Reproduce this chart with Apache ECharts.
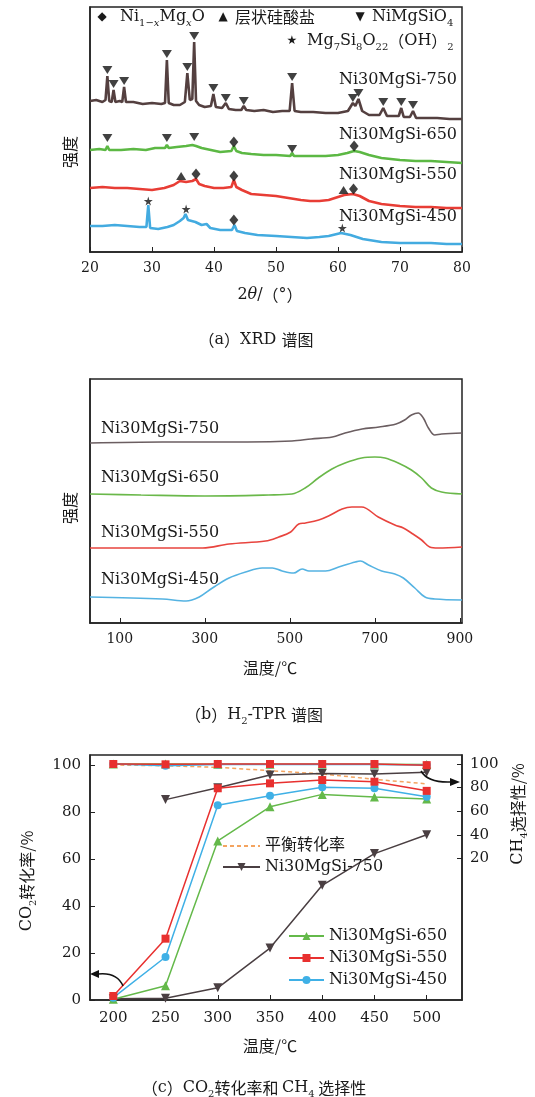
<!DOCTYPE html>
<html><head><meta charset="utf-8">
<script src="https://cdn.jsdelivr.net/npm/echarts@6/dist/echarts.min.js"></script>
<style>html,body{margin:0;padding:0;background:#fff}#c{width:535px;height:1097px}</style>
</head><body><div id="c"></div>
<script>
// ---------- data ----------
// (a) XRD, 2θ vs relative intensity (a.u.)
const xrd750 = [[20,151],[21,152],[22,150],[22.5,152],[22.8,176],[23.1,151],[23.5,150],[23.8,162],[24.1,150],[24.8,151],[25.2,150],[25.5,165],[25.8,150],[27,150],[28.5,148],[30,149],[31.5,148],[32.1,149],[32.4,192],[32.7,149],[33.5,147],[34.5,147],[35.3,150],[35.7,179],[36.1,152],[36.5,153],[36.8,210],[37.1,151],[37.6,147],[38.5,145],[39.5,146],[39.9,158],[40.3,145],[41.3,144],[41.9,149],[42.4,143],[43.5,142],[44.4,142],[44.8,146],[45.2,142],[46.5,141],[48,142],[49.5,140],[51,141],[52.2,141],[52.6,169],[53,141],[54,140],[56,140],[58,139],[60,139],[61.6,141],[62.4,149],[62.8,146],[63.3,153],[63.9,141],[65,137],[66.7,137],[67.3,144],[67.9,136],[69,136],[69.8,136],[70.2,144],[70.6,135],[71.6,135],[72.1,141],[72.6,134],[74,134],[76,134],[78,133],[80,133]];
const xrd650 = [[20,102],[21.5,103],[22.5,102],[22.8,106],[23.1,102],[25,102],[27,103],[29,102],[30.5,104],[32.1,104],[32.4,107],[32.7,104],[34,105],[35.5,106],[36.5,107],[36.8,109],[37.1,106],[38,104],[39.5,102],[41,100],[42.8,101],[43.2,106],[43.6,101],[44.5,99],[46,98],[48,97],[50,97],[52.3,96],[52.6,99],[52.9,96],[54,96],[56,96],[58,96],[60,97],[61.5,99],[62.6,101],[63.5,100],[65,97],[67,94],[70,92],[72.5,91],[75,91],[77.5,90],[80,89]];
const xrd550 = [[20,64],[22,65],[24,64],[26,64],[28,63],[30,62],[32,64],[33.5,67],[34.5,71],[35.5,70],[36.5,71],[37.1,73],[37.6,68],[38.5,66],[40,64],[41.5,64],[42.8,65],[43.2,72],[43.6,65],[44.5,62],[46,58],[48,57],[50,56],[52,54],[54,52],[55.5,51],[57,51],[58.5,52],[60,55],[61,57],[62.4,58],[63.5,56],[65,51],[67,48],[70,46],[72.5,45],[75,45],[77.5,44],[80,44]];
const xrd450 = [[20,26],[22,26],[24,27],[26,26],[28,25],[29.1,25],[29.4,47],[29.7,24],[31,23],[32.5,25],[33.5,27],[34.5,31],[35.1,34],[35.4,38],[35.8,32],[37,30],[38,27],[38.8,28],[39.4,24],[41,22],[42.9,22],[43.3,27],[43.7,21],[45,19],[47,17],[50,16],[52.5,15],[55,14],[57,15],[58.5,16],[60.5,19],[62,17],[64,13],[67,10],[70,9],[72.5,9],[75,9],[77.5,8],[80,8]];
// peak markers (2θ, height)
const markDiamond = [[43.2,110],[62.6,106],[37.1,78],[43.2,76],[62.5,63],[43.2,32]];
const markTriUp = [[34.7,76],[60.9,62]];
const markTriDown = [[22.8,182],[23.8,168],[25.5,171],[32.4,198],[35.7,185],[36.8,216],[39.9,164],[41.9,154],[44.8,151],[52.6,175],[62.4,154],[63.3,159],[67.3,150],[70.2,150],[72.1,147],[22.8,114],[32.4,114],[36.8,115],[52.6,103]];
const markStar = [[29.4,51],[35.5,43],[60.7,24]];

// (b) H2-TPR, temperature vs signal (a.u.)
const tpr750 = [[30,180],[200,181],[400,181],[505,182],[550,184],[600,186],[630,190],[670,194],[710,196],[750,199],[770,203],[786,208],[802,210],[814,205],[826,195],[841,188],[857,189],[905,190]];
const tpr650 = [[30,129],[150,128],[300,127],[450,128],[505,129],[536,135],[567,145],[599,154],[630,160],[669,165],[700,166],[724,165],[755,160],[786,153],[810,145],[833,135],[857,131],[905,129]];
const tpr550 = [[30,75],[240,75],[295,75],[357,79],[443,82],[474,86],[502,91],[521,99],[537,100],[568,103],[591,107],[623,114],[646,116],[669,116],[708,106],[747,98],[767,95],[786,90],[810,83],[829,76],[849,75],[905,76]];
const tpr450 = [[30,26],[200,24],[256,22],[287,26],[318,35],[357,45],[396,51],[435,55],[459,55],[482,52],[509,50],[529,54],[545,52],[584,52],[615,56],[654,61],[666,62],[685,58],[716,52],[747,49],[767,45],[794,35],[818,26],[841,24],[905,23]];
const tprTicks = [100,300,500,700,900];

// (c) CO2 conversion (%) and CH4 selectivity (%)
const temps = [200,250,300,350,400,450,500];
const equil   = [100,99.7,99,97.6,96.2,93.9,92];
const conv750 = [0.5,0.7,5.2,22.1,48.8,62.3,70.3];
const conv650 = [0.3,6.1,67.7,82.2,87.5,86.4,85.5];
const conv550 = [1.7,26.1,90.1,92.2,93.6,92.9,89.0];
const conv450 = [1.0,18.3,82.9,86.9,90.5,90.1,86.5];
const sel750  = [null,69.8,79.8,90.6,92.0,91.5,92.9];
const sel650  = [100,100,99.8,99.8,99.8,99.8,99.5];
const sel550  = [100,99.7,100,100,100,100,99.0];
const sel450  = [100,98.5,99.6,99.6,99.6,99.6,99.2];
const leftTicks = [0,20,40,60,80,100];
const rightTicks = [20,40,60,80,100];

// ---------- styles ----------
const SERIF = "'DejaVu Serif','Noto Sans CJK SC',serif";
const TXT = '#1a1a1a';
const C750 = '#544040', C650 = '#5cb844', C550 = '#e83d35', C450 = '#43abe0';
const T750 = '#6b5e61', T650 = '#6ab84a', T550 = '#e8443e', T450 = '#55b3e2';
const EQ = '#f4a460';
const STAR = 'path://M50,0 L61,35 L98,35 L68,57 L79,91 L50,70 L21,91 L32,57 L2,35 L39,35 Z';
const pair = arr => temps.map((t, i) => [t, arr[i]]);

const chart = echarts.init(document.getElementById('c'), null, {renderer: 'canvas'});

const frame = {show: true, borderColor: '#222', borderWidth: 1.5, backgroundColor: 'transparent'};
const grids = [
  Object.assign({left: 90, top: 7, width: 372, height: 245}, frame),
  Object.assign({left: 90, top: 379, width: 372, height: 244}, frame),
  Object.assign({left: 90, top: 755, width: 372, height: 245}, frame)
];
const axLine = {show: true, lineStyle: {color: '#222', width: 1.5}};
const lab = {color: TXT, fontFamily: SERIF, fontSize: 14};

const xAxes = [
  {gridIndex: 0, type: 'value', min: 20, max: 80, interval: 10, axisLine: axLine,
   axisTick: {inside: true, length: 5, lineStyle: {color: '#222'}}, axisLabel: Object.assign({margin: 9}, lab), splitLine: {show: false}},
  {gridIndex: 1, type: 'value', min: 30, max: 905, axisLine: axLine,
   axisTick: {inside: true, length: 5, customValues: tprTicks, lineStyle: {color: '#222'}},
   axisLabel: Object.assign({margin: 9, customValues: tprTicks}, lab), splitLine: {show: false}},
  {gridIndex: 2, type: 'value', min: 177.7, max: 533.8, axisLine: axLine,
   axisTick: {inside: true, length: 5, customValues: temps, lineStyle: {color: '#222'}},
   axisLabel: Object.assign({margin: 11, customValues: temps}, lab, {fontSize: 15}), splitLine: {show: false}}
];
const yAxes = [
  {gridIndex: 0, type: 'value', min: 0, max: 245, axisLine: axLine, axisTick: {show: false}, axisLabel: {show: false}, splitLine: {show: false}},
  {gridIndex: 1, type: 'value', min: 0, max: 244, axisLine: axLine, axisTick: {show: false}, axisLabel: {show: false}, splitLine: {show: false}},
  {gridIndex: 2, type: 'value', min: 0, max: 104.26, axisLine: axLine,
   axisTick: {inside: true, length: 5, customValues: leftTicks, lineStyle: {color: '#222'}},
   axisLabel: Object.assign({margin: 9, customValues: leftTicks}, lab, {fontSize: 15}), splitLine: {show: false}},
  {gridIndex: 2, type: 'value', position: 'right', min: -100, max: 107.6, axisLine: axLine,
   axisTick: {inside: true, length: 5, customValues: rightTicks, lineStyle: {color: '#222'}},
   axisLabel: Object.assign({margin: 8, customValues: rightTicks}, lab, {fontSize: 15}), splitLine: {show: false}}
];

function xrdLine(name, data, color) {
  return {name, type: 'line', xAxisIndex: 0, yAxisIndex: 0, data, symbol: 'none', smooth: false,
    lineStyle: {color, width: 2.6}, silent: true, z: 2};
}
function mark(data, symbol, size, rot) {
  return {type: 'scatter', xAxisIndex: 0, yAxisIndex: 0, data, symbol, symbolSize: size, symbolRotate: rot || 0,
    itemStyle: {color: '#111'}, silent: true, z: 5};
}
function tprLine(data, color) {
  return {type: 'line', xAxisIndex: 1, yAxisIndex: 1, data, symbol: 'none', smooth: 0.35,
    lineStyle: {color, width: 1.6}, silent: true};
}
function cLine(name, arr, color, symbol, size, yIdx, rot) {
  return {name, type: 'line', xAxisIndex: 2, yAxisIndex: yIdx, data: pair(arr), symbol, symbolSize: size,
    symbolRotate: rot || 0, showAllSymbol: true, connectNulls: false,
    lineStyle: {color, width: 1.5}, itemStyle: {color}, z: 3};
}

const series = [
  xrdLine('x750', xrd750, C750), xrdLine('x650', xrd650, C650), xrdLine('x550', xrd550, C550), xrdLine('x450', xrd450, C450),
  mark(markDiamond, 'diamond', [9, 11]), mark(markTriUp, 'triangle', [10, 8]),
  mark(markTriDown, 'triangle', [10, 8], 180), mark(markStar, STAR, 9),
  tprLine(tpr750, T750), tprLine(tpr650, T650), tprLine(tpr550, T550), tprLine(tpr450, T450),
  {name: '平衡转化率', type: 'line', xAxisIndex: 2, yAxisIndex: 2, data: pair(equil), symbol: 'circle', showSymbol: false,
   lineStyle: {color: EQ, width: 1.5, type: [4, 3]}, itemStyle: {color: EQ}, z: 2},
  cLine('Ni30MgSi-750', conv750, '#4a3f42', 'triangle', 9, 2, 180),
  cLine('Ni30MgSi-750', sel750, '#4a3f42', 'triangle', 9, 3, 180),
  cLine('Ni30MgSi-650', conv650, '#64b94a', 'triangle', 9, 2),
  cLine('Ni30MgSi-650', sel650, '#64b94a', 'triangle', 9, 3),
  cLine('Ni30MgSi-450', conv450, '#3fb0e6', 'circle', 8, 2),
  cLine('Ni30MgSi-450', sel450, '#3fb0e6', 'circle', 8, 3),
  cLine('Ni30MgSi-550', conv550, '#e8302f', 'rect', 8, 2),
  cLine('Ni30MgSi-550', sel550, '#e8302f', 'rect', 8, 3)
];

const legTxt = {color: TXT, fontFamily: SERIF, fontSize: 16};
const legends = [
  {data: [{name: '平衡转化率', itemStyle: {opacity: 0}}, 'Ni30MgSi-750'], orient: 'vertical', left: 222, top: 838, itemWidth: 37, itemHeight: 10,
   itemGap: 5, selectedMode: false, textStyle: legTxt, padding: 0},
  {data: ['Ni30MgSi-650', 'Ni30MgSi-550', 'Ni30MgSi-450'], orient: 'vertical', left: 288, top: 928, itemWidth: 35,
   itemHeight: 10, itemGap: 6, selectedMode: false, textStyle: legTxt, padding: 0}
];

// ---------- text annotations ----------
const subRich = {
  n: {fontFamily: SERIF, fontSize: 16, lineHeight: 22},
  s: {fontFamily: SERIF, fontSize: 10, lineHeight: 12, verticalAlign: 'bottom'},
  si: {fontFamily: SERIF, fontSize: 10, lineHeight: 12, verticalAlign: 'bottom', fontStyle: 'italic'},
  i: {fontFamily: SERIF, fontSize: 16, lineHeight: 22, fontStyle: 'italic'},
  g: {fontFamily: 'DejaVu Sans', fontSize: 12, lineHeight: 22},
  c: {fontFamily: "'Noto Sans CJK SC'", fontSize: 16, lineHeight: 22}
};
function T(x, y, text, opt) {
  opt = opt || {};
  return {type: 'text', x, y, rotation: opt.rot || 0, silent: true, z: 50,
    style: {text, fill: TXT, fontFamily: SERIF, fontSize: opt.size || 16, align: opt.align || 'left',
      verticalAlign: 'middle', rich: subRich}};
}
const graphics = [
  // legend of panel (a)
  T(102, 17, '{g|◆}', {align: 'center'}),
  T(120, 17, '{n|Ni}{s|1−}{si|x}{n|Mg}{si|x}{n|O}'),
  T(223, 17, '{g|▲}', {align: 'center'}),
  T(235, 17, '{c|层状硅酸盐}'),
  T(360, 17, '{g|▼}', {align: 'center'}),
  T(372, 17, '{n|NiMgSiO}{s|4}'),
  T(292, 41, '{g|★}', {align: 'center'}),
  T(307, 41, '{n|Mg}{s|7}{n|Si}{s|8}{n|O}{s|22}{c|（}{n|OH}{c|）}{s|2}'),
  // series labels (a)
  T(457, 80, 'Ni30MgSi-750', {align: 'right'}),
  T(457, 135, 'Ni30MgSi-650', {align: 'right'}),
  T(457, 175, 'Ni30MgSi-550', {align: 'right'}),
  T(457, 217, 'Ni30MgSi-450', {align: 'right'}),
  // axis names (a)
  T(70, 152, '{c|强度}', {align: 'center', rot: Math.PI / 2}),
  T(270, 295, '{n|2}{i|θ}{n|/}{c|（}{n|°}{c|）}', {align: 'center'}),
  T(256, 340, '{c|（}{n|a}{c|）}{n|XRD }{c|谱图}', {align: 'center'}),
  // (b)
  T(101, 429, 'Ni30MgSi-750'),
  T(101, 478, 'Ni30MgSi-650'),
  T(101, 533, 'Ni30MgSi-550'),
  T(101, 580, 'Ni30MgSi-450'),
  T(70, 508, '{c|强度}', {align: 'center', rot: Math.PI / 2}),
  T(270, 668, '{c|温度/℃}', {align: 'center'}),
  T(254, 715, '{c|（}{n|b}{c|）}{n|H}{s|2}{n|-TPR }{c|谱图}', {align: 'center'}),
  // (c)
  T(27, 881, '{n|CO}{s|2}{c|转化率/%}', {align: 'center', rot: Math.PI / 2}),
  T(518, 814, '{n|CH}{s|4}{c|选择性/%}', {align: 'center', rot: Math.PI / 2}),
  T(270, 1046, '{c|温度/℃}', {align: 'center'}),
  T(254, 1088, '{c|（}{n|c}{c|）}{n|CO}{s|2}{c|转化率和 }{n|CH}{s|4}{c| 选择性}', {align: 'center'}),
  // arrows
  {type: 'bezierCurve', silent: true, z: 40, shape: {x1: 123, y1: 986, x2: 98, y2: 974, cpx1: 117, cpy1: 972},
   style: {stroke: '#111', lineWidth: 1.5, fill: null}},
  {type: 'polygon', silent: true, z: 40, shape: {points: [[90, 974], [99, 970], [99, 978]]}, style: {fill: '#111'}},
  {type: 'bezierCurve', silent: true, z: 40, shape: {x1: 421, y1: 771, x2: 451, y2: 782, cpx1: 428, cpy1: 783},
   style: {stroke: '#111', lineWidth: 1.5, fill: null}},
  {type: 'polygon', silent: true, z: 40, shape: {points: [[460, 782], [450, 778], [450, 786]]}, style: {fill: '#111'}}
];

chart.setOption({
  animation: false,
  backgroundColor: '#fff',
  grid: grids, xAxis: xAxes, yAxis: yAxes,
  legend: legends,
  series,
  graphic: graphics
});
</script>
</body></html>
